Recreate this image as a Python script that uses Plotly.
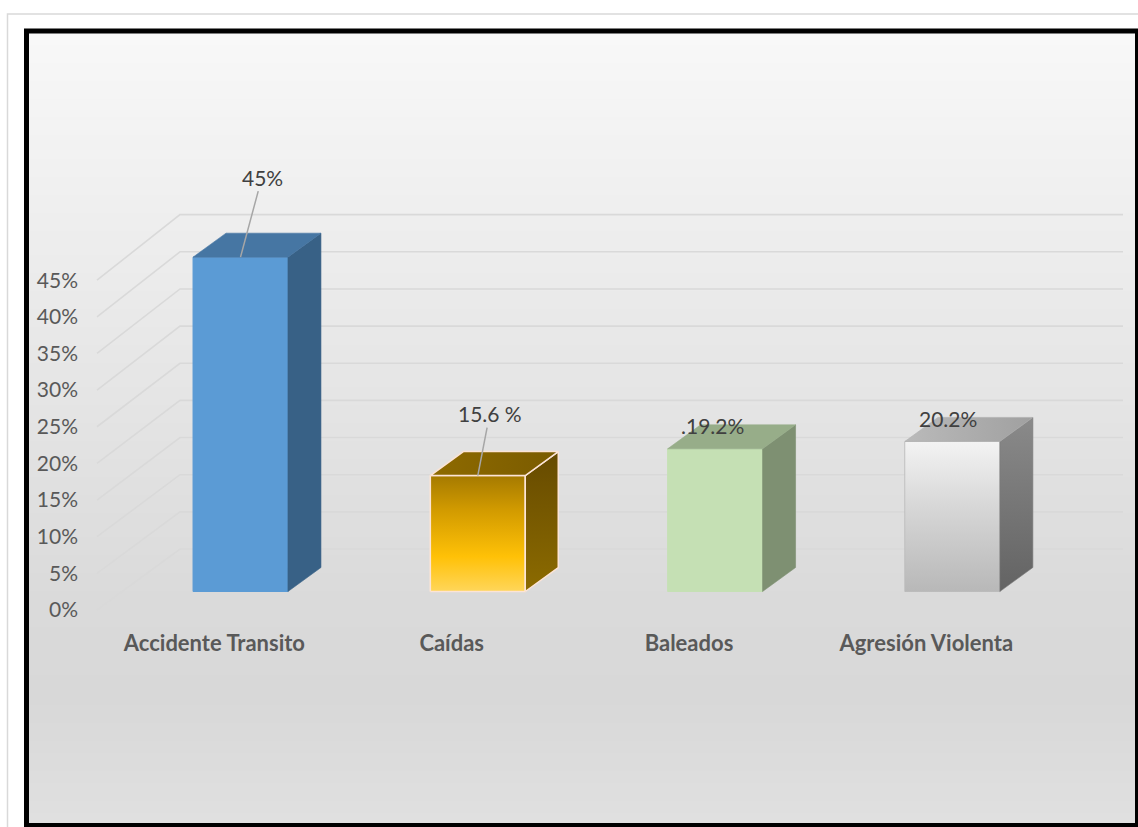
import plotly.graph_objects as go

# ---- data ----
categories = ["Accidente Transito", "Caídas", "Baleados", "Agresión Violenta"]
values = [45.0, 15.6, 19.2, 20.2]
value_labels = ["45%", "15.6 %", ".19.2%", "20.2%"]
tick_values = [0, 5, 10, 15, 20, 25, 30, 35, 40, 45]
tick_labels = ["0%", "5%", "10%", "15%", "20%", "25%", "30%", "35%", "40%", "45%"]

# ---- page geometry (pixels) ----
W, H = 1138, 827
PLOT_L, PLOT_R = 60, 1130          # x-axis domain in px
PLOT_T, PLOT_B = 180, 620          # y-axis domain in px
CAT_PX = 237.3                      # px per category step
CAT0_PX = 240.5                     # px of first bar centre
BAR_PX_PER_PCT = 7.43
BAR_ZERO_PX = 591.5
LBL_PX_PER_PCT = 7.33               # front (label) plane scale
LBL_ZERO_PX = 610

BAR_W = 0.40                        # bar width in category units
DEPTH_X = 33 / CAT_PX               # 3-D depth offset of bars
DEPTH_Y = 24 / BAR_PX_PER_PCT


def px_x(px):
    return (px - CAT0_PX) / CAT_PX


def px_y(px):
    return (BAR_ZERO_PX - px) / BAR_PX_PER_PCT


x_range = [px_x(PLOT_L), px_x(PLOT_R)]
y_range = [px_y(PLOT_B), px_y(PLOT_T)]
y2_range = [(LBL_ZERO_PX - PLOT_B) / LBL_PX_PER_PCT, (LBL_ZERO_PX - PLOT_T) / LBL_PX_PER_PCT]

FONT = "Lato"

# face colours: front, top, side
front_cols = ["#5B9BD5", "#E0A800", "#C5E0B4", "#D0D0D0"]
top_cols = ["#4676A3", "#8B6700", "#97AD89", "#ADADAD"]
side_cols = ["#386186", "#745600", "#7E9072", "#7A7A7A"]
edge_cols = ["#5B9BD5", "#FCE4D6", "#C5E0B4", "#BDBDBD"]

fig = go.Figure()
shapes = []

# background: gradient bands, light outer frame
bg_stops = [(33, (248, 248, 248)), (300, (234, 234, 234)), (600, (218, 218, 218)),
            (700, (216, 216, 216)), (823, (224, 224, 224))]


def bg_color(py):
    for (y0, c0), (y1, c1) in zip(bg_stops, bg_stops[1:]):
        if y0 <= py <= y1:
            t = (py - y0) / (y1 - y0)
            c = [round(a + (b - a) * t) for a, b in zip(c0, c1)]
            return "rgb({},{},{})".format(*c)
    return "rgb(224,224,224)"


band = 6
py = 33
while py < 823:
    y_next = min(py + band, 823)
    shapes.append(dict(type="rect", xref="paper", yref="paper", layer="below",
                       x0=29 / W, x1=1136 / W, y0=1 - y_next / H - 0.0005, y1=1 - py / H,
                       fillcolor=bg_color(py + band / 2), line=dict(width=0)))
    py = y_next
shapes.append(dict(type="rect", xref="paper", yref="paper", layer="below",
                   x0=7.5 / W, x1=1150 / W, y0=1 - 840 / H, y1=1 - 14 / H,
                   line=dict(color="#D9D9D9", width=1.5), fillcolor="rgba(0,0,0,0)"))

# wall gridlines of the 3-D frame (behind the bars)
front_x, back_x, right_x = px_x(97), px_x(180), px_x(1123)
back_off = px_y(549)
for v in tick_values:
    fy = px_y(LBL_ZERO_PX - v * LBL_PX_PER_PCT)
    by = v + back_off
    shapes.append(dict(type="path", xref="x", yref="y", layer="below",
                       path=f"M {front_x},{fy} L {back_x},{by} L {right_x},{by}",
                       line=dict(color="#D9D9D9", width=1.6)))

# heavy black border on top
shapes.append(dict(type="rect", xref="paper", yref="paper", layer="above",
                   x0=26.5 / W, x1=1137.5 / W, y0=1 - 825.5 / H, y1=1 - 31 / H,
                   line=dict(color="#000000", width=5), fillcolor="rgba(0,0,0,0)"))

xs = list(range(len(categories)))

# front faces
fig.add_trace(go.Bar(
    x=xs, y=values, width=BAR_W,
    marker=dict(color=front_cols, line=dict(color=edge_cols, width=1)),
    hoverinfo="skip", showlegend=False))

# gradient shading for the gold and the silver bar fronts
grad_front = {
    1: [[0, "#FFD65A"], [0.3, "#FFC107"], [0.7, "#D29B00"], [1, "#A57A00"]],
    3: [[0, "#B8B8B8"], [0.55, "#D6D6D6"], [1, "#F3F3F3"]],
}
for i, cs in grad_front.items():
    l, r, v = i - BAR_W / 2, i + BAR_W / 2, values[i]
    fig.add_trace(go.Scatter(
        x=[l, r, r, l, l], y=[0, 0, v, v, 0], fill="toself", mode="lines",
        fillgradient=dict(type="vertical", colorscale=cs),
        line=dict(color=edge_cols[i], width=1.5 if i == 1 else 0.5),
        hoverinfo="skip", showlegend=False))

# side and top faces
grad_side = {
    1: [[0, "#8C6B00"], [1, "#664A00"]],
    3: [[0, "#636363"], [1, "#8A8A8A"]],
}
grad_top = {
    1: [[0, "#8E6A00"], [1, "#7A5B00"]],
    3: [[0, "#BABABA"], [1, "#A0A0A0"]],
}
for i, v in enumerate(values):
    l, r = i - BAR_W / 2, i + BAR_W / 2
    side = dict(x=[r, r + DEPTH_X, r + DEPTH_X, r, r],
                y=[0, DEPTH_Y, v + DEPTH_Y, v, 0])
    top = dict(x=[l, r, r + DEPTH_X, l + DEPTH_X, l],
               y=[v, v, v + DEPTH_Y, v + DEPTH_Y, v])
    lw = 1.5 if i == 1 else 0.6
    for face, col, grads, gtype in ((side, side_cols[i], grad_side, "vertical"),
                                    (top, top_cols[i], grad_top, "horizontal")):
        kw = dict(fillcolor=col)
        if i in grads:
            kw = dict(fillgradient=dict(type=gtype, colorscale=grads[i]))
        fig.add_trace(go.Scatter(
            x=face["x"], y=face["y"], fill="toself", mode="lines",
            line=dict(color=edge_cols[i] if i == 1 else col, width=lw),
            hoverinfo="skip", showlegend=False, **kw))

# carrier for the value-axis labels on the front plane
fig.add_trace(go.Scatter(x=[0], y=[0], yaxis="y2", mode="markers",
                         marker=dict(opacity=0), hoverinfo="skip", showlegend=False))

# data labels
label_style = dict(font=dict(family=FONT, size=21, color="#404040"))
fig.add_annotation(x=0, y=values[0], text=value_labels[0], showarrow=True,
                   arrowhead=0, arrowwidth=1.5, arrowcolor="#A6A6A6",
                   ax=21.5, ay=-80, **label_style)
fig.add_annotation(x=1, y=values[1], text=value_labels[1], showarrow=True,
                   arrowhead=0, arrowwidth=1.5, arrowcolor="#A6A6A6",
                   ax=12, ay=-62, **label_style)
fig.add_annotation(x=2, y=values[2], text=value_labels[2], showarrow=False,
                   xshift=-2.5, yshift=23, **label_style)
fig.add_annotation(x=3, y=values[3], text=value_labels[3], showarrow=False,
                   xshift=-4, yshift=23, **label_style)

fig.update_layout(
    width=W, height=H,
    margin=dict(l=0, r=0, t=0, b=0),
    paper_bgcolor="#FFFFFF",
    plot_bgcolor="rgba(0,0,0,0)",
    shapes=shapes,
    showlegend=False,
    xaxis=dict(range=x_range, domain=[PLOT_L / W, PLOT_R / W],
               tickmode="array", tickvals=[i - 0.11 for i in xs], ticktext=categories,
               tickfont=dict(family=FONT, size=22, color="#595959", weight=700),
               showgrid=False, zeroline=False, showline=False, ticks="",
               ticklabelstandoff=8, automargin=False, fixedrange=True),
    yaxis=dict(range=y_range, domain=[1 - PLOT_B / H, 1 - PLOT_T / H],
               showticklabels=False, showgrid=False, zeroline=False, showline=False,
               ticks="", automargin=False, fixedrange=True),
    yaxis2=dict(range=y2_range, overlaying="y", anchor="free", side="left",
                position=80 / W, tickmode="array", tickvals=tick_values,
                ticktext=tick_labels,
                tickfont=dict(family=FONT, size=21, color="#595959"),
                showgrid=False, zeroline=False, showline=False, ticks="",
                ticklabelstandoff=2, automargin=False, fixedrange=True),
)

fig.write_html("out.html")
